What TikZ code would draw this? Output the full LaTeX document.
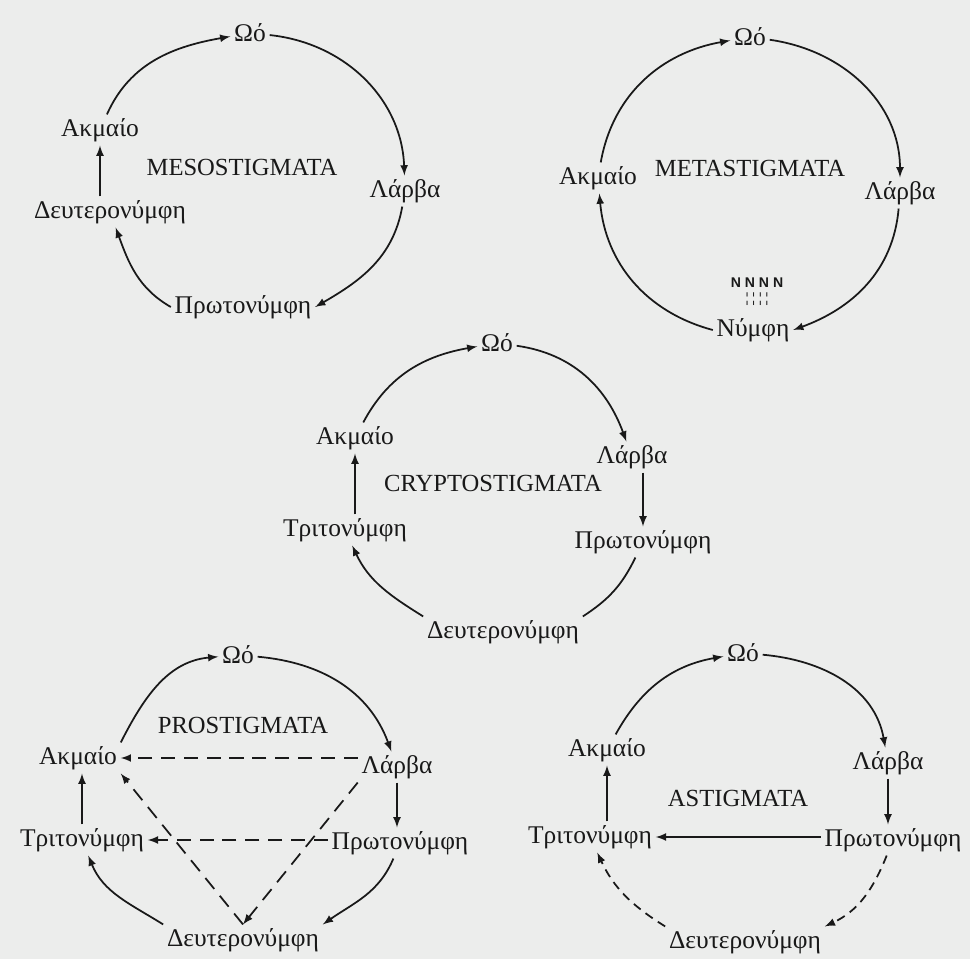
\documentclass[tikz,border=0pt]{standalone}
\usepackage{fontspec}
\setmainfont{Liberation Serif}
\setsansfont{Liberation Sans}
\definecolor{paper}{RGB}{236,237,236}
\definecolor{ink}{RGB}{25,25,25}

\begin{document}
\begin{tikzpicture}[x = 0.02cm, y = -0.02cm, > = latex,
	stage/.style = {inner sep = 2pt, text = ink, font = \fontsize{14.5}{16}\selectfont},
	order/.style = {text = ink, font = \fontsize{14}{16}\selectfont},
	tiny/.style = {inner sep = 0pt, text = ink, font = \fontsize{8}{9}\selectfont},
	cyc/.style = {->, draw = ink, line width = 1pt},
	alt/.style = {cyc, dash pattern = on 8pt off 5pt}]

	\fill [paper] (0, 0) rectangle (970, 959);
	\useasboundingbox (0, 0) rectangle (970, 959);

	% Mesostigmata
	\node [stage] (o1) at (250, 33) {Ωό};
	\node [stage] (l1) at (405, 191) {Λάρβα};
	\node [stage] (p1) at (243, 307) {Πρωτονύμφη};
	\node [stage] (d1) at (110, 212) {Δευτερονύμφη};
	\node [stage] (a1) at (100, 130) {Ακμαίο};
	\node [order] (m1) at (242, 167) {MESOSTIGMATA};

	\draw [cyc] (a1) to [out = 66, in = 190] (o1);
	\draw [cyc] (o1) to [out = -6, in = 92] (l1);
	\draw [cyc] (l1) to [out = -100, in = 30] (p1.east);
	\draw [cyc] (p1.west) to [out = 150, in = -70] (d1);
	\draw [cyc] (a1.south |- d1.north) -- (a1.south);

	% Metastigmata
	\node [stage] (o2) at (750, 37) {Ωό};
	\node [stage] (l2) at (900, 193) {Λάρβα};
	\node [stage] (n2) at (753, 330) {Νύμφη};
	\node [stage] (a2) at (598, 178) {Ακμαίο};
	\node [order] (m2) at (750, 168) {METASTIGMATA};
	\node [tiny, font = \sffamily\bfseries\fontsize{8}{9}\selectfont] (s2) at (757, 283) {N N N N};
	\node [tiny, font = \bfseries\fontsize{8}{9}\selectfont] (b2) at (757, 299) {¦ ¦ ¦ ¦};

	\draw [cyc] (a2) to [out = 80, in = 190] (o2);
	\draw [cyc] (o2) to [out = -8, in = 90] (l2);
	\draw [cyc] (l2) to [out = -95, in = 20] (n2.east);
	\draw [cyc] (n2.west) to [out = 165, in = -85] (a2);

	% Cryptostigmata
	\node [stage] (o3) at (497, 343) {Ωό};
	\node [stage] (l3) at (632, 457) {Λάρβα};
	\node [stage] (p3) at (643, 542) {Πρωτονύμφη};
	\node [stage] (d3) at (503, 632) {Δευτερονύμφη};
	\node [stage] (t3) at (345, 530) {Τριτονύμφη};
	\node [stage] (a3) at (355, 438) {Ακμαίο};
	\node [order] (m3) at (493, 483) {CRYPTOSTIGMATA};

	\draw [cyc] (a3) to [out = 62, in = 190] (o3);
	\draw [cyc] (o3) to [out = -8, in = 110] (l3);
	\draw [cyc] (l3.south -| p3.north) -- (p3.north);
	\draw [cyc, -] (p3) to [out = -116, in = 33] (d3.north east);
	\draw [cyc] (d3.north west) to [out = 148, in = -65] (t3);
	\draw [cyc] (a3.south |- t3.north) -- (a3.south);

	% Prostigmata
	\node [stage] (o4) at (238, 655) {Ωό};
	\node [stage] (l4) at (397, 767) {Λάρβα};
	\node [stage] (p4) at (400, 843) {Πρωτονύμφη};
	\node [stage] (d4) at (243, 940) {Δευτερονύμφη};
	\node [stage] (t4) at (82, 840) {Τριτονύμφη};
	\node [stage] (a4) at (78, 758) {Ακμαίο};
	\node [order] (m4) at (243, 725) {PROSTIGMATA};

	\draw [cyc] (a4.north east) to [out = 63, in = 185] (o4);
	\draw [cyc] (o4) to [out = -5, in = 110] (l4);
	\draw [cyc] (l4.south) -- (l4.south |- p4.north);
	\draw [cyc] (p4) to [out = -113, in = 35] (d4.north east);
	\draw [cyc] (d4.north west) to [out = 148, in = -68] (t4);
	\draw [cyc] (t4.north) -- (t4.north |- a4.south);

	\draw [alt] (a4.east -| l4.west) -- (a4.east);
	\draw [alt] (t4.east -| p4.west) -- (t4.east);
	\draw [alt] (l4.south west) -- (d4.north);
	\draw [alt] (d4.north) -- (a4.south east);

	% Astigmata
	\node [stage] (o5) at (743, 653) {Ωό};
	\node [stage] (l5) at (888, 763) {Λάρβα};
	\node [stage] (p5) at (893, 840) {Πρωτονύμφη};
	\node [stage] (d5) at (745, 942) {Δευτερονύμφη};
	\node [stage] (t5) at (590, 837) {Τριτονύμφη};
	\node [stage] (a5) at (607, 750) {Ακμαίο};
	\node [order] (m5) at (738, 798) {ASTIGMATA};

	\draw [cyc] (a5) to [out = 61, in = 190] (o5);
	\draw [cyc] (o5) to [out = -5, in = 100] (l5);
	\draw [cyc] (l5.south) -- (l5.south |- p5.north);
	\draw [cyc] (t5.east -| p5.west) -- (t5.east);
	\draw [alt, dash pattern = on 5pt off 3.5pt] (p5) to [out = -112, in = 25] (d5.north east);
	\draw [alt, dash pattern = on 5pt off 3.5pt] (d5.north west) to [out = 148, in = -65] (t5);
	\draw [cyc] (a5.south |- t5.north) -- (a5.south);

\end{tikzpicture}
\end{document}
